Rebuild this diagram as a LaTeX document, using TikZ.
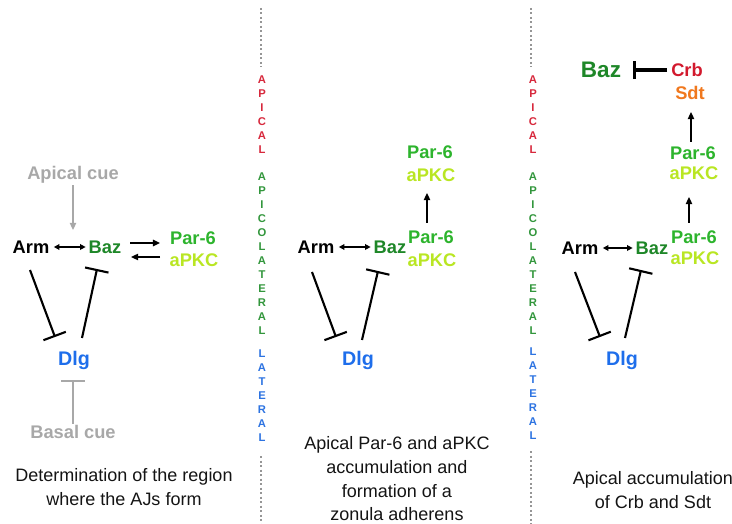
\documentclass[tikz,border=0pt]{standalone}
\usepackage{fontspec}
\setmainfont{Liberation Sans}
\usepackage{tikz}
\usetikzlibrary{positioning}
\usetikzlibrary{arrows.meta}
\usetikzlibrary{calc}

\definecolor{bazgreen}{RGB}{30,135,40}
\definecolor{pargreen}{RGB}{45,180,45}
\definecolor{apkcyellow}{RGB}{185,230,35}
\definecolor{dlgblue}{RGB}{30,110,235}
\definecolor{cuegray}{RGB}{168,168,168}
\definecolor{crbred}{RGB}{210,25,45}
\definecolor{sdtorange}{RGB}{240,120,30}
\definecolor{colred}{RGB}{215,40,60}
\definecolor{colgreen}{RGB}{50,150,60}
\definecolor{colblue}{RGB}{45,115,225}
\definecolor{dotgray}{RGB}{150,150,150}

\begin{document}
\begin{tikzpicture}[x=0.025cm, y=-0.025cm,
    prot/.style = {font=\fontsize{13}{15}\selectfont\bfseries, inner sep=1pt},
    letters/.style = {font=\fontsize{8}{9.96}\selectfont\bfseries, align=center, inner sep=0pt},
    caption/.style = {font=\fontsize{12.8}{16.8}\selectfont, align=center, text={black!92}},
    act/.style = {-{Triangle[length=5pt,width=4.5pt]}, line width=0.9pt},
    both/.style = {{Triangle[length=4pt,width=4pt]}-{Triangle[length=4pt,width=4pt]}, line width=0.9pt,
                   shorten <=2pt, shorten >=1pt},
    inh/.style = {-{Bar[width=17pt,line width=1.5pt]}, line width=1.5pt},
    sep/.style = {dotgray, line width=1.3pt, dash pattern=on 1.3pt off 1.9pt}]
  \useasboundingbox (0,0) rectangle (732,524);

  % panel 1
  \node[prot, text=cuegray] (cue1) at (73,175) {Apical cue};
  \node[prot] (arm1) at (31,247) {Arm};
  \node[prot, text=bazgreen] (baz1) at (105,247) {Baz};
  \node[prot, text=pargreen] (par1) at (193,238) {Par-6};
  \node[prot, text=apkcyellow] (apkc1) at (194,260) {aPKC};
  \node[prot, text=dlgblue, font=\fontsize{14}{16}\selectfont\bfseries] (dlg1) at (74,360) {Dlg};
  \node[prot, text=cuegray] (basal1) at (73,432) {Basal cue};
  \coordinate (cuetip) at (73,230);
  \coordinate (basaltip) at (73,380);
  \draw[act, cuegray] (cue1.south) -- (cuetip);
  \draw[inh, cuegray] (basal1.north) -- (basaltip);
  \draw[both] (arm1.east) -- (baz1.west);
  \draw[act, line width=1.5pt] ($(baz1)+(25,-4)$) -- ($(par1)+(-33,5)$);
  \draw[act] ($(apkc1)+(-34,-3)$) -- ($(baz1)+(26,10)$);
  \draw[inh] ($(arm1)+(-1,23)$) -- ($(dlg1)+(-19,-23)$);
  \draw[inh] ($(dlg1)+(8,-22)$) -- ($(baz1)+(-8,22)$);

  % panel 2
  \node[prot] (arm2) at (316,247) {Arm};
  \node[prot, text=bazgreen] (baz2) at (390,247) {Baz};
  \node[prot, text=pargreen] (par2) at (431,237) {Par-6};
  \node[prot, text=apkcyellow] (apkc2) at (432,260) {aPKC};
  \node[prot, text=pargreen] (par2t) at (430,152) {Par-6};
  \node[prot, text=apkcyellow] (apkc2t) at (431,175) {aPKC};
  \node[prot, text=dlgblue, font=\fontsize{14}{16}\selectfont\bfseries] (dlg2) at (358,360) {Dlg};
  \draw[both] (arm2.east) -- (baz2.west);
  \draw[act] ($(par2)+(-4,-14)$) -- ($(apkc2t)+(-4,18)$);
  \draw[inh] ($(arm2)+(-4,25)$) -- ($(dlg2)+(-22,-23)$);
  \draw[inh] ($(dlg2)+(4,-20)$) -- ($(baz2)+(-12,24)$);

  % panel 3
  \node[prot, text=bazgreen, font=\fontsize{16}{18}\selectfont\bfseries] (baz3t) at (601,70) {Baz};
  \node[prot, text=crbred] (crb) at (687,70) {Crb};
  \node[prot, text=sdtorange] (sdt) at (690,93) {Sdt};
  \node[prot, text=pargreen] (par3m) at (693,153) {Par-6};
  \node[prot, text=apkcyellow] (apkc3m) at (694,173) {aPKC};
  \node[prot] (arm3) at (580,248) {Arm};
  \node[prot, text=bazgreen] (baz3) at (652,248) {Baz};
  \node[prot, text=pargreen] (par3) at (694,237) {Par-6};
  \node[prot, text=apkcyellow] (apkc3) at (695,258) {aPKC};
  \node[prot, text=dlgblue, font=\fontsize{14}{16}\selectfont\bfseries] (dlg3) at (622,360) {Dlg};
  \draw[-{Bar[width=13pt,line width=2.4pt]}, line width=2.4pt] ($(crb)+(-20,0)$) -- ($(baz3t)+(32,0)$);
  \draw[act] ($(par3m)+(-2,-11)$) -- ($(sdt)+(1,19)$);
  \draw[act] ($(par3)+(-5,-14)$) -- ($(apkc3m)+(-5,24)$);
  \draw[both] (arm3.east) -- (baz3.west);
  \draw[inh] ($(arm3)+(-5,24)$) -- ($(dlg3)+(-22,-23)$);
  \draw[inh] ($(dlg3)+(3,-22)$) -- ($(baz3)+(-11,22)$);

  % separators
  \node[letters, text=colred] (api1) at (262,115) {A\\P\\I\\C\\A\\L};
  \node[letters, text=colgreen] (apl1) at (262,254) {A\\P\\I\\C\\O\\L\\A\\T\\E\\R\\A\\L};
  \node[letters, text=colblue] (lat1) at (262,396) {L\\A\\T\\E\\R\\A\\L};
  \node[letters, text=colred] (api2) at (533,115) {A\\P\\I\\C\\A\\L};
  \node[letters, text=colgreen] (apl2) at (533,254) {A\\P\\I\\C\\O\\L\\A\\T\\E\\R\\A\\L};
  \node[letters, text=colblue] (lat2) at (533,394) {L\\A\\T\\E\\R\\A\\L};
  \coordinate (top1) at (261,8);
  \coordinate (bot1) at (261,524);
  \coordinate (top2) at (531,8);
  \coordinate (bot2) at (531,524);
  \draw[sep, shorten >=6] (top1) -- (api1.north -| top1);
  \draw[sep, shorten <=10] (lat1.south -| bot1) -- (bot1);
  \draw[sep, shorten >=6] (top2) -- (api2.north -| top2);
  \draw[sep, shorten <=8] (lat2.south -| bot2) -- (bot2);

  % captions
  \node[caption] (cap1) at (124,487) {Determination of the region\\where the AJs form};
  \node[caption] (cap2) at (397,479) {Apical Par-6 and aPKC\\accumulation and\\formation of a\\zonula adherens};
  \node[caption] (cap3) at (653,490) {Apical accumulation\\of Crb and Sdt};
\end{tikzpicture}
\end{document}
